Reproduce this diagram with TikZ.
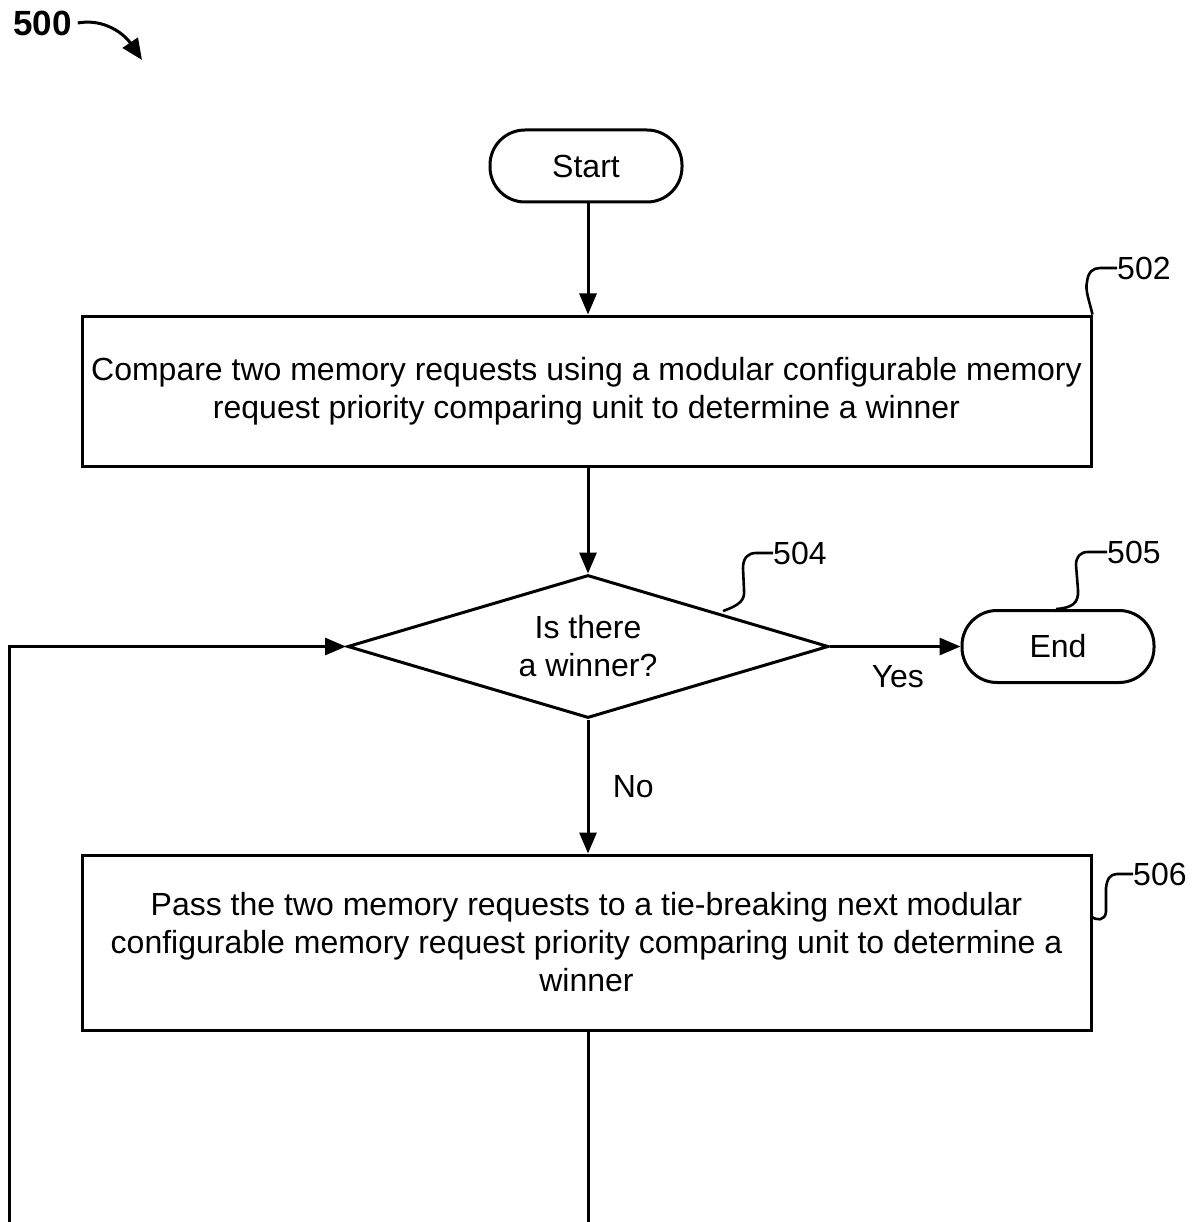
\documentclass[tikz,border=0pt]{standalone}
\usepackage{fontspec}
\setmainfont{Liberation Sans}
\usetikzlibrary{arrows.meta,shapes.geometric}
\begin{document}
\begin{tikzpicture}[x=1pt,y=-1pt,
  every node/.style={font=\fontsize{32}{38}\selectfont},
  ln/.style={line width=3pt},
  arr/.style={ln,-{Triangle[length=21pt,width=17pt]}},
  term/.style={draw,ln,rounded corners=35pt,minimum width=192pt,minimum height=72pt,inner sep=0pt},
  procbox/.style={draw,ln,minimum width=1009pt,inner sep=0pt,align=center},
  decis/.style={draw,ln,diamond,aspect=3.36,minimum width=481pt,minimum height=143pt,inner sep=0pt,align=center},
  refl/.style={line width=2.6pt},
  reftxt/.style={anchor=west,inner sep=0pt}]
\useasboundingbox (0,0) rectangle (1196,1222);
% figure number
\node[font=\fontsize{35}{40}\selectfont\bfseries,anchor=west,inner sep=0pt] (fig) at (13,23) {500};
\coordinate (figend) at (142,60);
\draw[line width=3pt,-{Triangle[length=21pt,width=18pt]}] (fig.east) ++(6,0) .. controls (105,18) and (125,35) .. (figend);
% nodes
\node[term] (start) at (586,166) {Start};
\node[procbox,minimum height=150pt] (b502) at (586.5,391) {Compare two memory requests using a modular configurable memory\\request priority comparing unit to determine a winner};
\node[decis] (d504) at (588,646.5) {Is there\\a winner?};
\node[term] (end) at (1058,646.5) {End};
\node[procbox,minimum height=175pt] (b506) at (586.5,942.5) {Pass the two memory requests to a tie-breaking next modular\\configurable memory request priority comparing unit to determine a\\winner};
\coordinate (bot1) at (588,1222);
\coordinate (bot2) at (9,1222);
\coordinate (corner) at (9,646.5);
% connectors
\draw[arr] (start.south -| d504.north) -- (d504.north |- b502.north);
\draw[arr] (b502.south -| d504.north) -- (d504.north);
\draw[arr] (d504.east) -- node[below=14pt,pos=0.52] (yes) {Yes} (end.west);
\draw[arr] (d504.south) -- node[right=20pt,pos=0.5] (no) {No} (d504.south |- b506.north);
\draw[ln] (d504.south |- b506.south) -- (bot1);
\draw[arr] (bot2) -- (corner) -- (d504.west);
% reference labels
\node[reftxt] (l502) at (1117,268) {502};
\draw[refl] (b502.north east) .. controls (1089,300) and (1085,290) .. (1087,282) .. controls (1088,272) and (1093,268) .. (1100,268) -- (l502.west);
\node[reftxt] (l504) at (773,553) {504};
\coordinate (p504) at (723,611);
\draw[refl] (p504) .. controls (740,605) and (745,600) .. (744,590) -- (743,568) .. controls (743,558) and (748,553) .. (756,553) -- (l504.west);
\node[reftxt] (l505) at (1107,552) {505};
\draw[refl] (end.north) ++(-2,0) .. controls (1072,608) and (1079,603) .. (1078,590) -- (1076,565) .. controls (1076,557) and (1080,552) .. (1088,552) -- (l505.west);
\node[reftxt] (l506) at (1133,874) {506};
\coordinate (p506) at (1091,916);
\draw[refl] (p506) .. controls (1096,921) and (1105,921) .. (1106,912) -- (1106,888) .. controls (1107,879) and (1110,874) .. (1117,874) -- (l506.west);
\end{tikzpicture}
\end{document}
